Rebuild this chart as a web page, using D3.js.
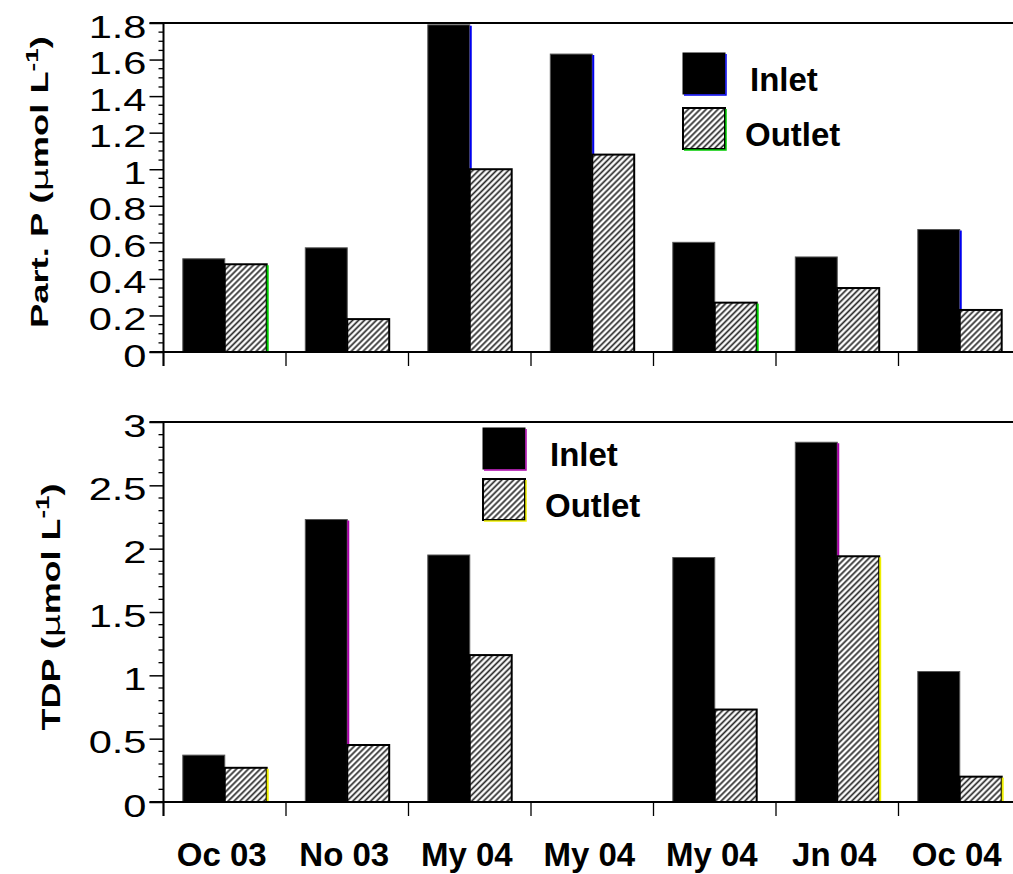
<!DOCTYPE html>
<html>
<head>
<meta charset="utf-8">
<script src="https://cdn.jsdelivr.net/npm/d3@7"></script>
<style>
  html, body { margin: 0; padding: 0; background: #fff; }
  svg { display: block; }
  text { font-family: Arial, "Liberation Sans", Helvetica, sans-serif; fill: #000; }
</style>
</head>
<body>
<svg id="chart" width="1013" height="874"></svg>
<script>
// Sampling dates (one group of bars per sampling)
const categories = ["Oc 03", "No 03", "My 04", "My 04", "My 04", "Jn 04", "Oc 04"];
const seriesNames = ["Inlet", "Outlet"];

// Particulate phosphorus, µmol L-1
const partPInlet  = [0.51, 0.57, 1.79, 1.63, 0.60, 0.52, 0.67];
const partPOutlet = [0.48, 0.18, 1.00, 1.08, 0.27, 0.35, 0.23];

// Total dissolved phosphorus, µmol L-1
const tdpInlet  = [0.37, 2.23, 1.95, 0, 1.93, 2.84, 1.03];
const tdpOutlet = [0.27, 0.45, 1.16, 0, 0.73, 1.94, 0.20];

// Axis tick labels
const partPTicks = [0, 0.2, 0.4, 0.6, 0.8, 1, 1.2, 1.4, 1.6, 1.8];
const tdpTicks   = [0, 0.5, 1, 1.5, 2, 2.5, 3];

const svg = d3.select("#chart");
const W = 1013;

// hatched fill for the outlet bars
const defs = svg.append("defs");
defs.append("pattern")
  .attr("id", "hatch")
  .attr("patternUnits", "userSpaceOnUse")
  .attr("width", 4.2).attr("height", 4.2)
  .attr("patternTransform", "rotate(45)")
  .call(p => {
    p.append("rect").attr("width", 4.2).attr("height", 4.2).attr("fill", "#fff");
    p.append("line").attr("x1", 1.2).attr("x2", 1.2).attr("y1", 0).attr("y2", 4.2)
      .attr("stroke", "#2a2a2a").attr("stroke-width", 1.7);
  });

const x = d3.scaleBand()
  .domain(d3.range(categories.length))
  .range([163.5, 163.5 + 122.5 * categories.length])
  .paddingInner(0).paddingOuter(0);

const xSub = d3.scaleBand()
  .domain(seriesNames)
  .range([0, x.bandwidth()])
  .paddingInner(0).paddingOuter(0.46);

function panel(cfg) {
  const g = svg.append("g");
  const y = d3.scaleLinear().domain([0, cfg.max]).range([cfg.y0, cfg.y1]);
  const left = x.range()[0];

  // bars
  const series = [cfg.inlet, cfg.outlet];
  series.forEach((vals, s) => {
    const name = seriesNames[s];
    g.append("g").selectAll("rect")
      .data(vals.map((v, i) => ({ v, i })).filter(d => d.v > 0))
      .join("rect")
      .attr("x", d => x(d.i) + xSub(name))
      .attr("y", d => y(d.v))
      .attr("width", xSub.bandwidth())
      .attr("height", d => y(0) - y(d.v))
      .attr("fill", s === 0 ? "#000" : "url(#hatch)")
      .attr("stroke", s === 0 ? "#555" : "#000")
      .attr("stroke-width", s === 0 ? 1 : 2);

    // coloured right edges left over from the original drawing layers
    const edge = s === 0 ? cfg.inletEdge : cfg.outletEdge;
    g.append("g").selectAll("line")
      .data(edge.idx.filter(i => vals[i] > 0))
      .join("line")
      .attr("x1", i => x(i) + xSub(name) + xSub.bandwidth() + 1)
      .attr("x2", i => x(i) + xSub(name) + xSub.bandwidth() + 1)
      .attr("y1", i => y(vals[i]) + 1)
      .attr("y2", y(0))
      .attr("stroke", edge.color).attr("stroke-width", 2);
  });

  // frame: top line, left axis, bottom axis
  g.append("line").attr("x1", left - 14).attr("x2", W).attr("y1", cfg.y1).attr("y2", cfg.y1)
    .attr("stroke", "#000").attr("stroke-width", 2.2);
  g.append("line").attr("x1", left - 14).attr("x2", W).attr("y1", cfg.y0).attr("y2", cfg.y0)
    .attr("stroke", "#000").attr("stroke-width", 2.2);
  g.append("line").attr("x1", left).attr("x2", left).attr("y1", cfg.y1).attr("y2", cfg.y0 + 14)
    .attr("stroke", "#000").attr("stroke-width", 2);

  // y axis: major ticks with labels, minor ticks between
  const yAxis = d3.axisLeft(y).tickValues(cfg.ticks).tickSize(14).tickFormat(d3.format("~g"));
  const ya = g.append("g").attr("transform", `translate(${left},0)`).call(yAxis);
  ya.select(".domain").remove();
  ya.selectAll(".tick line").attr("stroke", "#000").attr("stroke-width", 1.5);
  ya.selectAll(".tick text")
    .attr("x", 0).attr("dy", null).attr("y", 0)
    .attr("font-size", 32).attr("text-anchor", "end")
    .attr("transform", "translate(-17,14) scale(1.3,1)");

  const minor = d3.range(0, cfg.max + 1e-9, cfg.minorStep)
    .filter(v => !cfg.ticks.some(t => Math.abs(t - v) < 1e-9));
  g.append("g").selectAll("line").data(minor).join("line")
    .attr("x1", left - 5).attr("x2", left)
    .attr("y1", d => y(d)).attr("y2", d => y(d))
    .attr("stroke", "#000").attr("stroke-width", 1.3);

  // x ticks at group boundaries
  const bounds = d3.range(categories.length + 1).map(i => x.range()[0] + i * x.step());
  g.append("g").selectAll("line").data(bounds).join("line")
    .attr("x1", d => d).attr("x2", d => d)
    .attr("y1", cfg.y0).attr("y2", cfg.y0 + 14)
    .attr("stroke", "#000").attr("stroke-width", 1.3);

  // y title
  const t = g.append("text")
    .attr("font-weight", "bold").attr("font-size", cfg.titleSize)
    .attr("text-anchor", "middle");
  t.append("tspan").text(cfg.title + " (");
  t.append("tspan").attr("font-weight", "normal").attr("font-family", "DejaVu Sans, sans-serif").text("\u00B5");
  t.append("tspan").text("mol L");
  t.append("tspan").attr("font-size", cfg.titleSize * 0.72).attr("dy", -cfg.titleSize * 0.45).text("-1");
  t.append("tspan").attr("dy", cfg.titleSize * 0.45).text(")");
  const len = t.node().getComputedTextLength();
  const k = cfg.titleLength / len;
  t.attr("transform", `translate(${cfg.titleX},${cfg.titleY}) rotate(-90) scale(${k},1)`);

  // legend
  const lg = g.append("g");
  seriesNames.forEach((name, s) => {
    const ly = cfg.legend.y + s * cfg.legend.gap;
    lg.append("rect")
      .attr("x", cfg.legend.x).attr("y", ly)
      .attr("width", 42).attr("height", 41)
      .attr("fill", s === 0 ? "#000" : "url(#hatch)")
      .attr("stroke", "#000").attr("stroke-width", s === 0 ? 1 : 2);
    const edge = s === 0 ? cfg.inletEdge.color : cfg.outletEdge.color;
    lg.append("polyline")
      .attr("points", `${cfg.legend.x + 43},${ly + 1} ${cfg.legend.x + 43},${ly + 42} ${cfg.legend.x + 1},${ly + 42}`)
      .attr("fill", "none").attr("stroke", edge).attr("stroke-width", 1.5);
    lg.append("text")
      .attr("x", cfg.legend.x + (s === 0 ? 67 : 62)).attr("y", ly + 38)
      .attr("font-size", 33).attr("font-weight", "bold")
      .text(name);
  });
}

panel({
  inlet: partPInlet, outlet: partPOutlet,
  max: 1.8, y0: 352, y1: 23, ticks: partPTicks, minorStep: 0.05,
  title: "Part. P", titleSize: 23, titleLength: 292, titleX: 48, titleY: 182,
  legend: { x: 683, y: 53, gap: 55 },
  inletEdge: { color: "#0000ee", idx: [2, 3, 6] },
  outletEdge: { color: "#00cc00", idx: [0, 4] }
});

panel({
  inlet: tdpInlet, outlet: tdpOutlet,
  max: 3, y0: 802, y1: 422, ticks: tdpTicks, minorStep: 0.1,
  title: "TDP", titleSize: 25, titleLength: 247, titleX: 60, titleY: 607,
  legend: { x: 483, y: 428, gap: 51 },
  inletEdge: { color: "#aa00aa", idx: [1, 5] },
  outletEdge: { color: "#eeee00", idx: [0, 5, 6] }
});

// category labels under the lower panel
svg.append("g").selectAll("text")
  .data(categories.map((c, i) => ({ c, i })))
  .join("text")
  .attr("x", d => x(d.i) + x.bandwidth() / 2 - 3)
  .attr("y", 866)
  .attr("text-anchor", "middle")
  .attr("font-size", 33).attr("font-weight", "bold")
  .text(d => d.c);
</script>
</body>
</html>
